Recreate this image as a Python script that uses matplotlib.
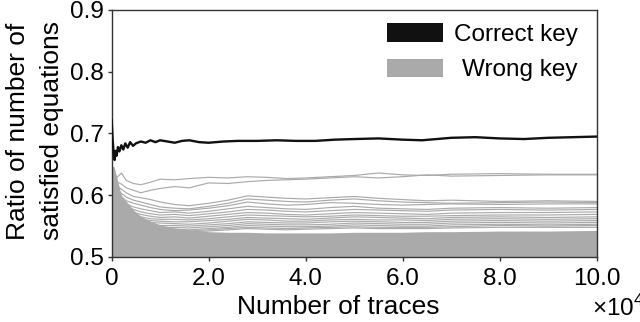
import matplotlib
matplotlib.use('Agg')
import matplotlib.pyplot as plt
from matplotlib.patches import Rectangle

plt.rcParams['font.family'] = 'Liberation Sans'
plt.rcParams['mathtext.fontset'] = 'custom'
plt.rcParams['mathtext.rm'] = 'Liberation Sans'

## DATA (x in units of 10^4 traces)
correct_x = [0, 0.02, 0.04, 0.06, 0.08, 0.1, 0.13, 0.16, 0.2, 0.24, 0.28, 0.33, 0.38, 0.44, 0.5,
             0.6, 0.7, 0.8, 0.9, 1.0, 1.15, 1.3, 1.45, 1.6, 1.8, 2.0, 2.3, 2.6, 3.0, 3.4, 3.8,
             4.2, 4.6, 5.0, 5.5, 6.0, 6.4, 7.0, 7.5, 8.0, 8.5, 9.0, 9.5, 10.0]
correct_key = [0.722, 0.69, 0.668, 0.657, 0.672, 0.664, 0.678, 0.671, 0.681, 0.674, 0.684, 0.677,
               0.686, 0.680, 0.684, 0.687, 0.685, 0.689, 0.686, 0.689, 0.687, 0.685, 0.688, 0.689,
               0.686, 0.685, 0.687, 0.688, 0.688, 0.689, 0.688, 0.688, 0.690, 0.691, 0.692, 0.690,
               0.689, 0.693, 0.694, 0.692, 0.691, 0.693, 0.694, 0.695]

wrong_x = [0.0, 0.05, 0.1, 0.2, 0.3, 0.45, 0.6, 0.8, 1.0, 1.3, 1.6, 2.0, 2.4, 2.8, 3.2, 3.6,
           4.0, 4.5, 5.0, 5.5, 6.0, 6.5, 7.0, 8.0, 9.0, 10.0]
wrong_1 = [0.645, 0.64, 0.628, 0.636, 0.624, 0.619, 0.617, 0.621, 0.626, 0.625, 0.627, 0.629, 0.628,
           0.630, 0.629, 0.627, 0.628, 0.630, 0.632, 0.636, 0.633, 0.632, 0.634, 0.635, 0.634, 0.634]
wrong_2 = [0.645, 0.636, 0.622, 0.618, 0.612, 0.608, 0.604, 0.608, 0.611, 0.614, 0.612, 0.620, 0.619,
           0.622, 0.624, 0.625, 0.626, 0.628, 0.630, 0.628, 0.630, 0.633, 0.631, 0.632, 0.633, 0.633]
wrong_3 = [0.645, 0.632, 0.615, 0.61, 0.604, 0.598, 0.596, 0.593, 0.589, 0.585, 0.583, 0.587, 0.592,
           0.599, 0.597, 0.595, 0.594, 0.596, 0.598, 0.595, 0.593, 0.591, 0.592, 0.590, 0.591, 0.590]
wrong_4 = [0.645, 0.628, 0.61, 0.603, 0.597, 0.592, 0.589, 0.585, 0.581, 0.579, 0.578, 0.582, 0.587,
           0.594, 0.592, 0.590, 0.589, 0.592, 0.594, 0.591, 0.589, 0.588, 0.587, 0.588, 0.589, 0.588]
wrong_5 = [0.645, 0.622, 0.606, 0.597, 0.591, 0.587, 0.584, 0.580, 0.577, 0.575, 0.576, 0.579, 0.583,
           0.589, 0.586, 0.584, 0.585, 0.588, 0.587, 0.585, 0.584, 0.585, 0.586, 0.585, 0.586, 0.586]
wrong_6 = [0.64, 0.618, 0.601, 0.592, 0.586, 0.581, 0.578, 0.575, 0.572, 0.573, 0.571, 0.574, 0.578,
           0.582, 0.580, 0.578, 0.577, 0.580, 0.582, 0.579, 0.578, 0.577, 0.579, 0.580, 0.579, 0.580]
wrong_7 = [0.64, 0.615, 0.598, 0.588, 0.582, 0.577, 0.573, 0.570, 0.568, 0.569, 0.567, 0.570, 0.573,
           0.577, 0.576, 0.574, 0.573, 0.575, 0.577, 0.576, 0.575, 0.574, 0.576, 0.577, 0.576, 0.577]
wrong_8 = [0.635, 0.612, 0.594, 0.585, 0.578, 0.572, 0.569, 0.566, 0.564, 0.565, 0.563, 0.566, 0.569,
           0.572, 0.571, 0.569, 0.568, 0.570, 0.572, 0.571, 0.570, 0.569, 0.571, 0.572, 0.572, 0.573]
wrong_9 = [0.635, 0.61, 0.59, 0.58, 0.574, 0.568, 0.565, 0.562, 0.561, 0.561, 0.560, 0.562, 0.565,
           0.568, 0.567, 0.566, 0.565, 0.566, 0.568, 0.567, 0.566, 0.566, 0.567, 0.568, 0.568, 0.569]
wrong_10 = [0.63, 0.607, 0.587, 0.577, 0.571, 0.565, 0.561, 0.559, 0.558, 0.557, 0.557, 0.559, 0.561,
            0.564, 0.563, 0.562, 0.561, 0.563, 0.565, 0.564, 0.563, 0.562, 0.564, 0.565, 0.564, 0.565]
wrong_11 = [0.63, 0.604, 0.584, 0.574, 0.568, 0.562, 0.558, 0.556, 0.555, 0.554, 0.553, 0.555, 0.558,
            0.561, 0.560, 0.558, 0.558, 0.560, 0.561, 0.560, 0.560, 0.559, 0.561, 0.562, 0.561, 0.562]
wrong_12 = [0.625, 0.6, 0.58, 0.57, 0.564, 0.559, 0.555, 0.553, 0.551, 0.551, 0.550, 0.552, 0.554,
            0.557, 0.556, 0.555, 0.555, 0.557, 0.558, 0.557, 0.556, 0.556, 0.558, 0.559, 0.558, 0.559]
wrong_13 = [0.625, 0.597, 0.577, 0.567, 0.561, 0.556, 0.552, 0.550, 0.548, 0.548, 0.547, 0.549, 0.551,
            0.554, 0.553, 0.552, 0.552, 0.553, 0.555, 0.554, 0.553, 0.553, 0.555, 0.556, 0.555, 0.556]
wrong_14 = [0.62, 0.594, 0.574, 0.564, 0.558, 0.553, 0.549, 0.547, 0.546, 0.545, 0.544, 0.546, 0.548,
            0.551, 0.550, 0.549, 0.549, 0.550, 0.552, 0.551, 0.550, 0.550, 0.552, 0.553, 0.552, 0.553]
wrong_15 = [0.62, 0.592, 0.572, 0.561, 0.555, 0.551, 0.547, 0.545, 0.544, 0.543, 0.542, 0.544, 0.546,
            0.548, 0.547, 0.546, 0.547, 0.548, 0.549, 0.548, 0.548, 0.548, 0.549, 0.551, 0.550, 0.551]
wrong_16 = [0.615, 0.59, 0.569, 0.558, 0.552, 0.548, 0.545, 0.543, 0.542, 0.541, 0.541, 0.542, 0.544,
            0.546, 0.545, 0.544, 0.545, 0.546, 0.547, 0.546, 0.546, 0.546, 0.547, 0.548, 0.548, 0.548]
# dense bundle of wrong keys, seen as a solid block
wrong_band_top = [0.648, 0.646, 0.63, 0.6, 0.59, 0.576, 0.566, 0.558, 0.552, 0.547, 0.544, 0.541, 0.540,
                  0.540, 0.539, 0.539, 0.539, 0.539, 0.540, 0.540, 0.540, 0.541, 0.541, 0.542, 0.542, 0.543]

wrong_keys = [wrong_1, wrong_2, wrong_3, wrong_4, wrong_5, wrong_6, wrong_7, wrong_8,
              wrong_9, wrong_10, wrong_11, wrong_12, wrong_13, wrong_14, wrong_15, wrong_16]

x_ticks = [0, 2, 4, 6, 8, 10]
x_ticklabels = ['0', '2.0', '4.0', '6.0', '8.0', '10.0']
y_ticks = [0.5, 0.6, 0.7, 0.8, 0.9]

GRAY = '#aaaaaa'
FS = 17.5
LFS = 19

fig = plt.figure(figsize=(6.4, 3.22), dpi=100)
ax = fig.add_axes([0.1745, 0.2019, 0.7578, 0.7671])

ax.fill_between(wrong_x, 0.5, wrong_band_top, color=GRAY, lw=0)
for w in wrong_keys:
    ax.plot(wrong_x, w, color=GRAY, lw=0.85)
ax.plot(correct_x, correct_key, color='#111111', lw=1.7, zorder=5)

ax.set_xlim(0, 10)
ax.set_ylim(0.5, 0.9)
ax.set_xticks(x_ticks)
ax.set_xticklabels(x_ticklabels)
ax.set_yticks(y_ticks)
ax.set_yticklabels(['%.1f' % v for v in y_ticks])
ax.tick_params(axis='x', direction='out', length=3, width=1, pad=5, labelsize=FS, color='#333333')
ax.tick_params(axis='y', direction='out', length=3, width=1, pad=2.5, labelsize=FS, color='#333333')
for s in ax.spines.values():
    s.set_color('#333333')
    s.set_linewidth(1.0)

fig.text(35 / 640, 1 - 131 / 322, 'Ratio of number of\nsatisfied equations', rotation=90,
         ha='center', va='center', multialignment='center', fontsize=LFS, linespacing=1.5)
ax.set_xlabel('Number of traces', fontsize=LFS)
ax.xaxis.set_label_coords(0.4676, -0.155)
fig.text(592 / 640, 1 - 316 / 322, '×10$^{4}$', fontsize=FS, ha='left', va='baseline')

# legend drawn as blocks
ax.add_patch(Rectangle((0.567, 0.870), 0.1155, 0.077, transform=ax.transAxes,
                       color='#111111', lw=0, zorder=6))
ax.add_patch(Rectangle((0.567, 0.729), 0.1155, 0.073, transform=ax.transAxes,
                       color=GRAY, lw=0, zorder=6))
ax.text(0.9615, 0.8745, 'Correct key', transform=ax.transAxes, ha='right', va='baseline', fontsize=FS)
ax.text(0.9615, 0.7328, 'Wrong key', transform=ax.transAxes, ha='right', va='baseline', fontsize=FS)

plt.savefig('out.png', dpi=100)
